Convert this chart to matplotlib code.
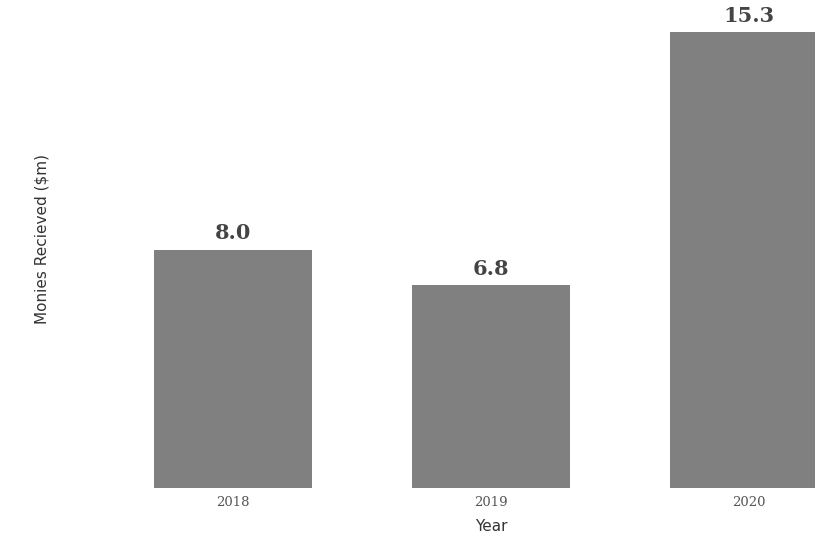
import matplotlib.pyplot as plt

years = ["2018", "2019", "2020"]
monies = [8.0, 6.8, 15.3]
value_labels = ["8.0", "6.8", "15.3"]

fig = plt.figure(figsize=(8.15, 5.36), dpi=100)
ax = fig.add_axes([0.0, 0.0896, 1.0, 0.9104])

x = range(len(years))
bars = ax.bar(x, monies, width=0.61, color="#808080")

for b, lab in zip(bars, value_labels):
    ax.text(b.get_x() + b.get_width() / 2, b.get_height() + 0.22, lab,
            ha="center", va="bottom", fontsize=15, fontweight="bold",
            family="DejaVu Serif", color="#444444")

ax.set_xlim(-0.903, 2.256)
ax.set_ylim(0, 16.38)
ax.set_xticks(list(x))
ax.set_xticklabels(years, family="DejaVu Serif", fontsize=9.5, color="#555555")
ax.tick_params(axis="x", length=0, pad=6)
ax.set_yticks([])
for s in ax.spines.values():
    s.set_visible(False)

fig.text(491 / 815, 0.004, "Year", ha="center", va="bottom",
         fontsize=11, color="#333333")
fig.text(42 / 815, 1 - 239 / 536, "Monies Recieved ($m)", rotation=90,
         ha="center", va="center", fontsize=11, color="#333333")

fig.savefig("out.png", dpi=100)
